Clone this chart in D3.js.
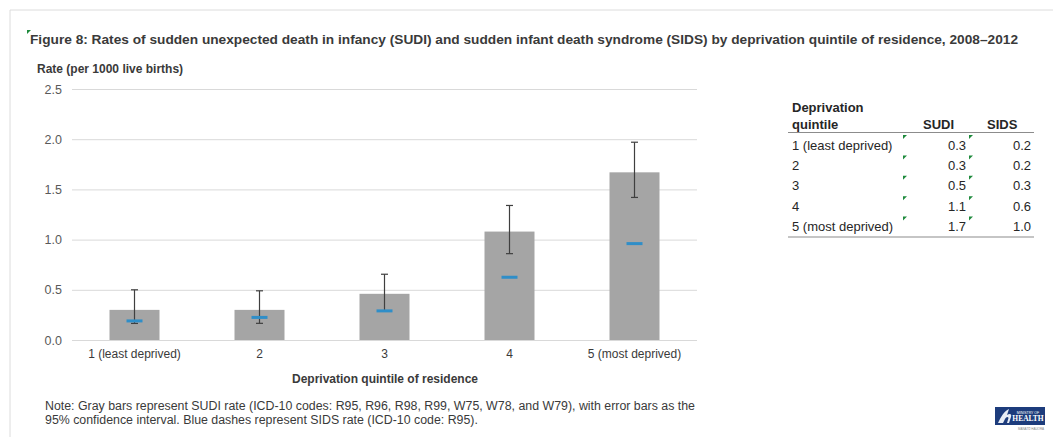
<!DOCTYPE html>
<html>
<head>
<meta charset="utf-8">
<script src="https://cdn.jsdelivr.net/npm/d3@7"></script>
<style>
  html, body { margin: 0; padding: 0; background: #fff; }
  svg { display: block; font-family: "Liberation Sans", Arial, sans-serif; }
</style>
</head>
<body>
<svg id="chart" width="1053" height="437"></svg>
<script>
// Deprivation quintiles and rates per 1000 live births, 2008–2012
const quintiles = ["1 (least deprived)", "2", "3", "4", "5 (most deprived)"];
const sudiRate  = [0.30, 0.30, 0.46, 1.08, 1.67];
const sudiLow   = [0.165, 0.166, 0.29, 0.86, 1.42];
const sudiHigh  = [0.50, 0.49, 0.655, 1.34, 1.97];
const sidsRate  = [0.19, 0.225, 0.29, 0.625, 0.96];
const yTicks    = [0, 0.5, 1.0, 1.5, 2.0, 2.5];

const titleText = "Figure 8: Rates of sudden unexpected death in infancy (SUDI) and sudden infant death syndrome (SIDS) by deprivation quintile of residence, 2008\u20132012";
const noteLines = [
  "Note: Gray bars represent SUDI rate (ICD-10 codes: R95, R96, R98, R99, W75, W78, and W79), with error bars as the",
  "95% confidence interval. Blue dashes represent SIDS rate (ICD-10 code: R95)."
];

const svg = d3.select("#chart");
const textCol = "#3a3a3a";

// faint page frame
svg.append("line").attr("x1", 10).attr("x2", 10).attr("y1", 10).attr("y2", 437)
  .attr("stroke", "#dcdcdc");
svg.append("line").attr("x1", 10).attr("x2", 1053).attr("y1", 10).attr("y2", 10)
  .attr("stroke", "#dcdcdc");

// small green cell markers
function marker(x, y) {
  svg.append("path")
    .attr("d", `M${x},${y}L${x + 4},${y}L${x},${y + 4}Z`)
    .attr("fill", "#1e8a3c");
}

// title
marker(27, 30);
svg.append("text")
  .attr("x", 30).attr("y", 44)
  .attr("font-size", 13.5).attr("font-weight", "bold")
  .attr("fill", textCol)
  .attr("textLength", 988).attr("lengthAdjust", "spacingAndGlyphs")
  .text(titleText);

// scales
const x = d3.scaleBand().domain(quintiles).range([72, 697])
  .paddingInner(0.6).paddingOuter(0.3);
const y = d3.scaleLinear().domain([0, 2.5]).range([340, 89]);

// y axis label
svg.append("text")
  .attr("x", 37).attr("y", 73)
  .attr("font-size", 12).attr("font-weight", "bold")
  .attr("fill", textCol)
  .text("Rate (per 1000 live births)");

// gridlines + y tick labels
const yAxis = d3.axisLeft(y).tickValues(yTicks).tickFormat(d3.format(".1f"))
  .tickSize(-(697 - 72)).tickPadding(10);
const gy = svg.append("g").attr("transform", "translate(72,0)").call(yAxis);
gy.select(".domain").remove();
gy.selectAll(".tick line").attr("stroke", "#d9d9d9");
gy.selectAll(".tick text").attr("font-size", 12.5).attr("fill", "#595959")
  .attr("font-family", "Liberation Sans, Arial, sans-serif");

// bars
const idx = d3.range(quintiles.length);
svg.append("g").selectAll("rect").data(idx).join("rect")
  .attr("x", i => x(quintiles[i]))
  .attr("y", i => y(sudiRate[i]))
  .attr("width", x.bandwidth())
  .attr("height", i => y(0) - y(sudiRate[i]))
  .attr("fill", "#a5a5a5");

// error bars (95% CI)
const cx = i => x(quintiles[i]) + x.bandwidth() / 2;
const eb = svg.append("g").attr("stroke", "#3f3f3f").attr("stroke-width", 1.2);
eb.selectAll("line.stem").data(idx).join("line").attr("class", "stem")
  .attr("x1", cx).attr("x2", cx)
  .attr("y1", i => y(sudiHigh[i])).attr("y2", i => y(sudiLow[i]));
eb.selectAll("line.capHi").data(idx).join("line").attr("class", "capHi")
  .attr("x1", i => cx(i) - 3.5).attr("x2", i => cx(i) + 3.5)
  .attr("y1", i => y(sudiHigh[i])).attr("y2", i => y(sudiHigh[i]));
eb.selectAll("line.capLo").data(idx).join("line").attr("class", "capLo")
  .attr("x1", i => cx(i) - 3.5).attr("x2", i => cx(i) + 3.5)
  .attr("y1", i => y(sudiLow[i])).attr("y2", i => y(sudiLow[i]));

// SIDS dashes
svg.append("g").selectAll("line").data(idx).join("line")
  .attr("x1", i => cx(i) - 8).attr("x2", i => cx(i) + 8)
  .attr("y1", i => y(sidsRate[i])).attr("y2", i => y(sidsRate[i]))
  .attr("stroke", "#2f8ec8").attr("stroke-width", 3);

// x axis
const xAxis = d3.axisBottom(x).tickSize(0).tickPadding(9);
const gx = svg.append("g").attr("transform", "translate(0,340)").call(xAxis);
gx.select(".domain").remove();
gx.selectAll(".tick text").attr("font-size", 12).attr("fill", textCol)
  .attr("font-family", "Liberation Sans, Arial, sans-serif");

svg.append("text")
  .attr("x", 385).attr("y", 383)
  .attr("text-anchor", "middle")
  .attr("font-size", 12).attr("font-weight", "bold")
  .attr("fill", textCol)
  .text("Deprivation quintile of residence");

// note
const n1 = svg.append("text").attr("x", 45).attr("y", 410)
  .attr("font-size", 12).attr("fill", textCol).text(noteLines[0]);
const w1 = n1.node().getComputedTextLength();
const k = 650 / w1;
n1.attr("textLength", 650).attr("lengthAdjust", "spacingAndGlyphs");
const n2 = svg.append("text").attr("x", 45).attr("y", 424)
  .attr("font-size", 12).attr("fill", textCol).text(noteLines[1]);
const w2 = n2.node().getComputedTextLength();
n2.attr("textLength", w2 * k).attr("lengthAdjust", "spacingAndGlyphs");

// summary table
const fmt = d3.format(".1f");
const tbl = svg.append("g").attr("fill", "#262626");
const colQ = 792, colSudiHead = 923, colSudiVal = 966, colSidsHead = 987, colSidsVal = 1031;
tbl.append("text").attr("x", colQ).attr("y", 112).attr("font-size", 13).attr("font-weight", "bold").text("Deprivation");
tbl.append("text").attr("x", colQ).attr("y", 129).attr("font-size", 13).attr("font-weight", "bold").text("quintile");
tbl.append("text").attr("x", colSudiHead).attr("y", 129).attr("font-size", 13).attr("font-weight", "bold").text("SUDI");
tbl.append("text").attr("x", colSidsHead).attr("y", 129).attr("font-size", 13).attr("font-weight", "bold").text("SIDS");
tbl.append("line").attr("x1", 788).attr("x2", 1034).attr("y1", 132.5).attr("y2", 132.5)
  .attr("stroke", "#8c8c8c").attr("stroke-width", 1.2);

const rowY = i => 149.5 + i * 20.4;
idx.forEach(i => {
  tbl.append("text").attr("x", colQ).attr("y", rowY(i)).attr("font-size", 13).text(quintiles[i]);
  tbl.append("text").attr("x", colSudiVal).attr("y", rowY(i)).attr("font-size", 13)
    .attr("text-anchor", "end").text(fmt(sudiRate[i]));
  tbl.append("text").attr("x", colSidsVal).attr("y", rowY(i)).attr("font-size", 13)
    .attr("text-anchor", "end").text(fmt(sidsRate[i]));
  marker(903, rowY(i) - 14.5);
  marker(969, rowY(i) - 14.5);
});
tbl.append("line").attr("x1", 788).attr("x2", 1034).attr("y1", 237).attr("y2", 237)
  .attr("stroke", "#8c8c8c").attr("stroke-width", 1.2);

// ministry logo
const logo = svg.append("g").attr("transform", "translate(995,407)");
logo.append("rect").attr("width", 50).attr("height", 18).attr("fill", "#1d3c7c");
logo.append("path")
  .attr("d", "M3,16 C6,10 9,4 14,2 L12,8 C15,6 17,7 16,10 L14,16 L12,16 L13.5,11 C13,9 11,10 10,12 L8,16 Z")
  .attr("fill", "#e8edf5");
logo.append("text").attr("x", 33).attr("y", 6.5).attr("font-size", 3.5)
  .attr("text-anchor", "middle").attr("fill", "#fff").text("MINISTRY OF");
logo.append("text").attr("x", 33).attr("y", 14).attr("font-size", 7.5)
  .attr("font-weight", "bold").attr("font-family", "Liberation Serif, serif")
  .attr("text-anchor", "middle").attr("fill", "#fff").text("HEALTH");
logo.append("text").attr("x", 36).attr("y", 23).attr("font-size", 3)
  .attr("text-anchor", "middle").attr("fill", "#888").text("MANAT\u016A HAUORA");
</script>
</body>
</html>
